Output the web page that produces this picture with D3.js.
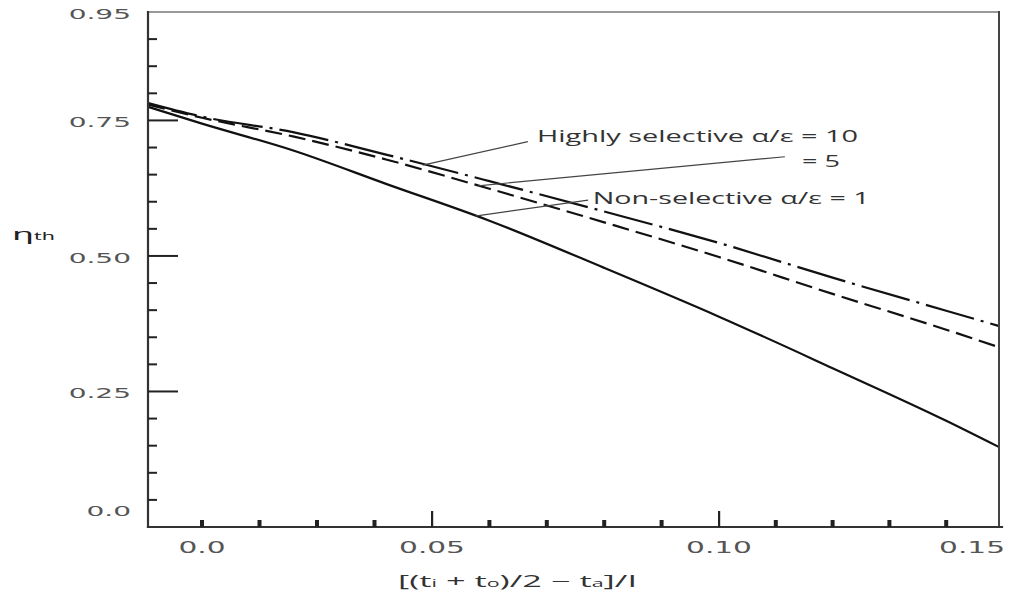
<!DOCTYPE html>
<html>
<head>
<meta charset="utf-8">
<script src="https://cdn.jsdelivr.net/npm/d3@7"></script>
<style>
  html, body { margin: 0; background: #fff; }
  svg { display: block; }
</style>
</head>
<body>
<svg id="chart" width="1010" height="596"></svg>
<script>
// Flat-plate collector efficiency against the reduced temperature difference
const xValues        = [-0.0117, 0, 0.02, 0.04, 0.06, 0.08, 0.10, 0.12, 0.14, 0.1492];
const etaSelective10 = [0.782, 0.757, 0.728, 0.687, 0.638, 0.582, 0.524, 0.460, 0.399, 0.371];
const etaSelective5  = [0.779, 0.755, 0.720, 0.678, 0.624, 0.562, 0.498, 0.430, 0.364, 0.332];
const etaNonSelect   = [0.775, 0.744, 0.694, 0.633, 0.565, 0.478, 0.388, 0.293, 0.196, 0.148];

// Axis ticks as printed on the figure
const xTickValues = [0, 0.05, 0.10, 0.15];
const xTickLabels = ["0.0", "0.05", "0.10", "0.15"];
const xMajorTicks = [0.05, 0.10];
const xMinorTicks = [0, 0.0125, 0.025, 0.0375, 0.06, 0.07, 0.08, 0.09, 0.11, 0.12, 0.13, 0.14];
const yTickValues = [0, 0.25, 0.50, 0.75, 0.95];
const yTickLabels = ["0.0", "0.25", "0.50", "0.75", "0.95"];
const yMajorTicks = [0.25, 0.50, 0.75];
const yMinorTicks = [0.05, 0.10, 0.15, 0.20, 0.30, 0.35, 0.40, 0.45, 0.55, 0.60, 0.65, 0.70, 0.80, 0.85, 0.90];

const svg = d3.select("#chart");
const plot = { left: 148, right: 999, top: 12, bottom: 527 };

// The printed abscissa is unevenly divided, so the scale is piecewise linear
const x = d3.scaleLinear().domain(xTickValues).range([202, 432, 719, 1003]);
const y = d3.scaleLinear().domain([0, 0.95]).range([plot.bottom, plot.top]);

const series = [
  { name: "alpha/eps = 10", values: etaSelective10, dash: "50,7,3,7" },
  { name: "alpha/eps = 5",  values: etaSelective5,  dash: "17,7" },
  { name: "alpha/eps = 1",  values: etaNonSelect,   dash: null }
];

const line = d3.line()
  .x(d => x(d[0]))
  .y(d => y(d[1]))
  .curve(d3.curveMonotoneX);

svg.append("g").selectAll("path")
  .data(series)
  .join("path")
  .attr("d", s => line(xValues.map((xv, i) => [xv, s.values[i]])))
  .attr("fill", "none")
  .attr("stroke", "#111")
  .attr("stroke-width", 2.2)
  .attr("stroke-dasharray", s => s.dash);

// Stretch a text element horizontally by a factor of its natural width
function stretch(sel, factor) {
  sel.each(function () {
    const w = this.getComputedTextLength();
    d3.select(this).attr("textLength", w * factor).attr("lengthAdjust", "spacingAndGlyphs");
  });
}
function fitWidth(sel, width) {
  sel.attr("textLength", width).attr("lengthAdjust", "spacingAndGlyphs");
}

// Callouts naming each curve
const interp = s => d3.scaleLinear().domain(xValues).range(s.values);
const callouts = [
  { text: "Highly selective α/ε = 10", s: series[0], at: 0.048, from: [0.0667, 0.711], pos: [0.0683, 0.710], width: 321 },
  { text: "= 5",                        s: series[1], at: 0.058, from: [0.1116, 0.683], pos: [0.1146, 0.664], width: 38 },
  { text: "Non-selective α/ε = 1",      s: series[2], at: 0.0575, from: [0.0772, 0.603], pos: [0.0780, 0.596], width: 277 }
];
const cg = svg.append("g");
callouts.forEach(c => {
  cg.append("line")
    .attr("x1", x(c.from[0])).attr("y1", y(c.from[1]))
    .attr("x2", x(c.at)).attr("y2", y(interp(c.s)(c.at)))
    .attr("stroke", "#444").attr("stroke-width", 1.2);
  cg.append("text")
    .attr("x", x(c.pos[0])).attr("y", y(c.pos[1]))
    .attr("font-family", "'Open Sans', sans-serif")
    .attr("font-size", 17)
    .attr("fill", "#333")
    .text(c.text)
    .call(fitWidth, c.width);
});

// Frame
const frame = svg.append("g").attr("stroke-linecap", "square");
frame.append("line").attr("x1", plot.left).attr("x2", plot.right).attr("y1", plot.top).attr("y2", plot.top)
  .attr("stroke", "#777").attr("stroke-width", 1.6);
frame.append("line").attr("x1", plot.right).attr("x2", plot.right).attr("y1", plot.top).attr("y2", plot.bottom)
  .attr("stroke", "#444").attr("stroke-width", 2);
frame.append("line").attr("x1", plot.left).attr("x2", plot.left).attr("y1", plot.top).attr("y2", plot.bottom)
  .attr("stroke", "#333").attr("stroke-width", 2.2);
frame.append("line").attr("x1", plot.left).attr("x2", plot.right + 3).attr("y1", plot.bottom).attr("y2", plot.bottom)
  .attr("stroke", "#333").attr("stroke-width", 2.2);

// Y ticks (pointing into the plot)
const yt = svg.append("g").attr("stroke", "#222");
yt.selectAll("line.minor").data(yMinorTicks).join("line").attr("class", "minor")
  .attr("x1", plot.left).attr("x2", plot.left + 9)
  .attr("y1", d => y(d)).attr("y2", d => y(d))
  .attr("stroke-width", 2);
yt.selectAll("line.major").data(yMajorTicks).join("line").attr("class", "major")
  .attr("x1", plot.left).attr("x2", plot.left + 30)
  .attr("y1", d => y(d)).attr("y2", d => y(d))
  .attr("stroke-width", 2);

svg.append("g").selectAll("text")
  .data(yTickValues)
  .join("text")
  .attr("x", 131)
  .attr("y", d => d === 0 ? y(d) - 11 : y(d) + 7)
  .attr("text-anchor", "end")
  .attr("font-family", "'DejaVu Sans', sans-serif")
  .attr("font-size", 14)
  .attr("fill", "#555")
  .text((d, i) => yTickLabels[i])
  .call(stretch, 2.0);

// X ticks (pointing up into the plot)
const xt = svg.append("g").attr("fill", "#222");
xt.selectAll("rect.minor").data(xMinorTicks).join("rect").attr("class", "minor")
  .attr("x", d => x(d) - 2).attr("width", 4)
  .attr("y", plot.bottom - 7).attr("height", 7);
xt.selectAll("rect.major").data(xMajorTicks).join("rect").attr("class", "major")
  .attr("x", d => x(d) - 1).attr("width", 2.2)
  .attr("y", plot.bottom - 16).attr("height", 16);

svg.append("g").selectAll("text")
  .data(xTickValues)
  .join("text")
  .attr("x", (d, i) => i === xTickValues.length - 1 ? x(d) + 2 : x(d))
  .attr("y", 553)
  .attr("text-anchor", (d, i) => i === xTickValues.length - 1 ? "end" : "middle")
  .attr("font-family", "'DejaVu Sans', sans-serif")
  .attr("font-size", 16)
  .attr("fill", "#555")
  .text((d, i) => xTickLabels[i])
  .call(stretch, 1.85);

// Axis titles
const xTitle = svg.append("text")
  .attr("x", 398).attr("y", 587)
  .attr("font-family", "'Open Sans', sans-serif")
  .attr("font-size", 16)
  .attr("fill", "#333");
xTitle.append("tspan").text("[(t");
xTitle.append("tspan").attr("font-size", 10).text("i");
xTitle.append("tspan").text(" + t");
xTitle.append("tspan").attr("font-size", 10).text("o");
xTitle.append("tspan").text(")/2 − t");
xTitle.append("tspan").attr("font-size", 10).text("a");
xTitle.append("tspan").text("]/I");
xTitle.call(fitWidth, 239);

const yTitle = svg.append("text")
  .attr("x", 12).attr("y", 240)
  .attr("font-family", "'Noto Sans', sans-serif")
  .attr("font-size", 17)
  .attr("fill", "#222");
yTitle.append("tspan").text("η");
yTitle.append("tspan").attr("font-size", 10).text("th");
yTitle.call(fitWidth, 43);
</script>
</body>
</html>
